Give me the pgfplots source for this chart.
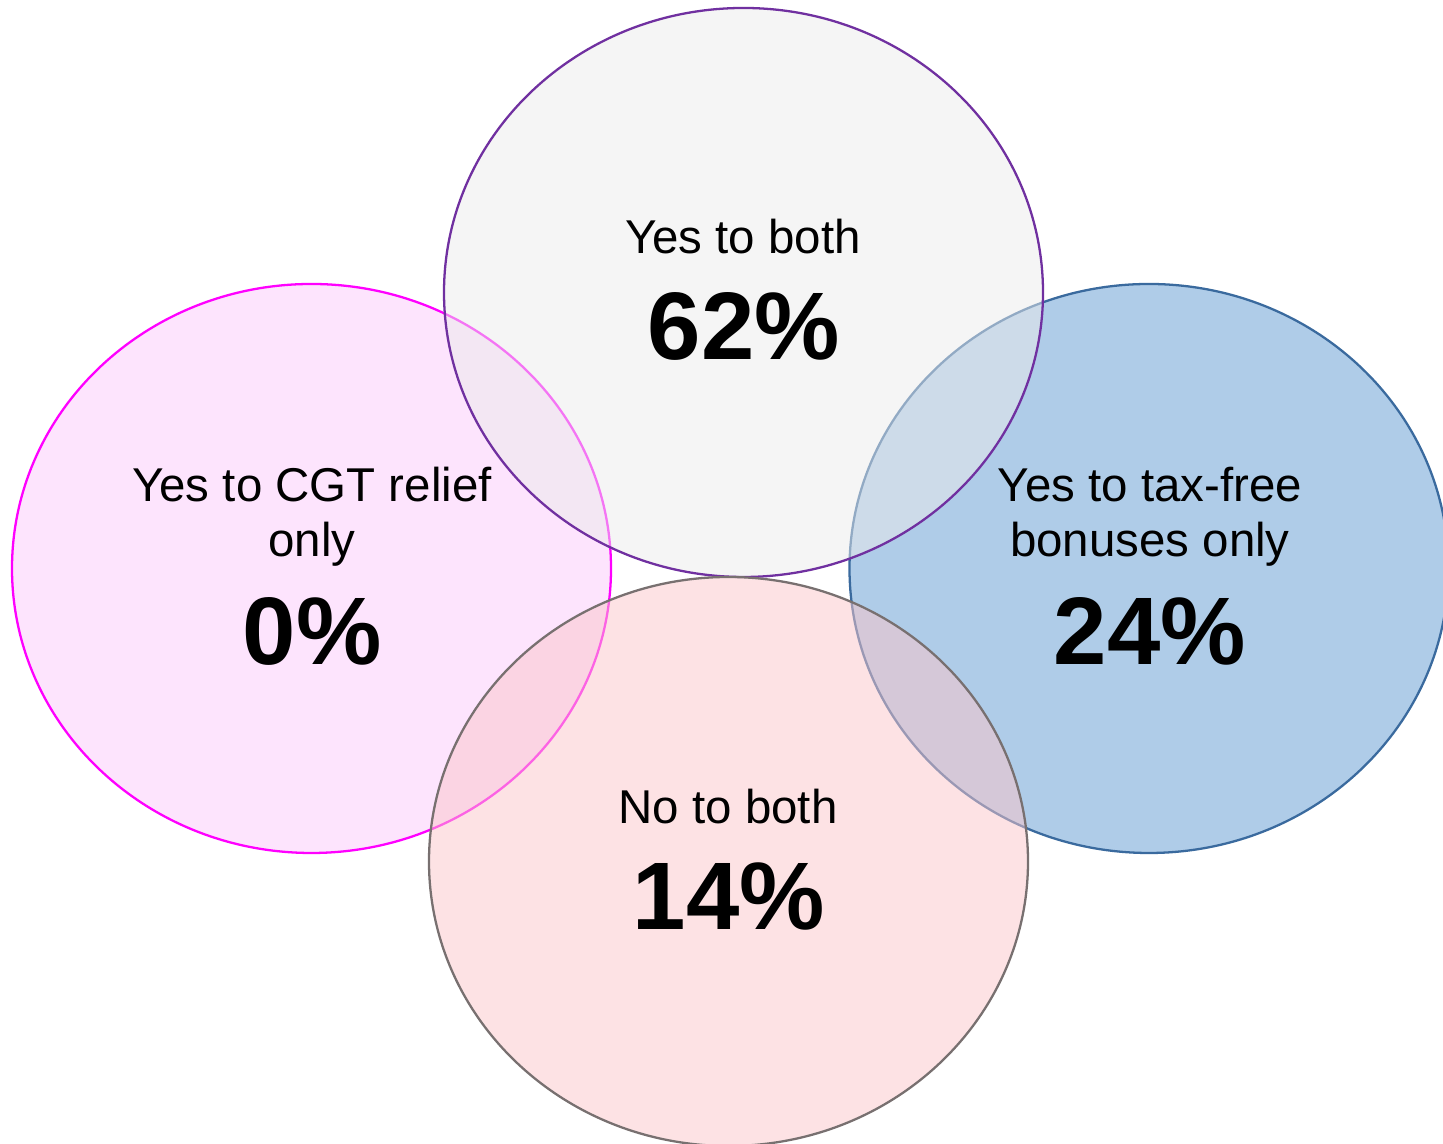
\documentclass[border=0pt]{standalone}
\usepackage{pgfplots}
\pgfplotsset{compat=1.18}
\usepackage{fontspec}
\setmainfont{Liberation Sans}
\definecolor{leftfill}{RGB}{253,228,253}
\definecolor{leftline}{RGB}{255,0,255}
\definecolor{rightfill}{RGB}{175,204,232}
\definecolor{rightline}{RGB}{58,106,158}
\definecolor{topfill}{RGB}{235,235,235}
\definecolor{topline}{RGB}{112,48,160}
\definecolor{botfill}{RGB}{251,198,202}
\definecolor{botline}{RGB}{120,112,112}
\begin{document}
\begin{tikzpicture}
\begin{axis}[
  hide axis, scale only axis,
  width=14.43cm, height=11.44cm,
  xmin=0, xmax=1443, ymin=0, ymax=1144,
  clip=true,
  /pgf/number format/assume math mode=true,
]
% ellipses (centres and radii in picture units)
\draw[leftline, line width=0.65pt, fill=leftfill] (axis cs:311.5,575.5) ellipse [x radius=299.5, y radius=284.5];
\draw[rightline, line width=0.65pt, fill=rightfill] (axis cs:1149,575.5) ellipse [x radius=299.5, y radius=284.5];
\draw[topline, line width=0.65pt, fill=topfill, fill opacity=0.5] (axis cs:743.5,851.5) ellipse [x radius=299.5, y radius=284.5];
\draw[botline, line width=0.65pt, fill=botfill, fill opacity=0.5] (axis cs:728.5,282.5) ellipse [x radius=299.5, y radius=284.5];
% labels
\node[anchor=base, font=\fontsize{13.5}{16}\selectfont] at (axis cs:743,890) {Yes to both};
\node[anchor=base, font=\fontsize{13.5}{16}\selectfont] at (axis cs:312,642) {Yes to CGT relief};
\node[anchor=base, font=\fontsize{13.5}{16}\selectfont] at (axis cs:312,587) {only};
\node[anchor=base, font=\fontsize{13.5}{16}\selectfont] at (axis cs:1150,642) {Yes to tax-free};
\node[anchor=base, font=\fontsize{13.5}{16}\selectfont] at (axis cs:1150,587) {bonuses only};
\node[anchor=base, font=\fontsize{13.5}{16}\selectfont] at (axis cs:728,320) {No to both};
% percentages
\addplot[draw=none, mark=none, point meta=explicit,
  nodes near coords={\pgfmathprintnumber[assume math mode=true]{\pgfplotspointmeta}\%},
  every node near coord/.style={anchor=base, inner sep=0pt, black, font=\fontsize{27.3}{33}\selectfont\bfseries}]
  coordinates {
    (744,784) [62]
    (312,479) [0]
    (1150,479) [24]
    (729,214) [14]
  };
\end{axis}
\pgfresetboundingbox
\path[use as bounding box] (current axis.south west) rectangle (current axis.north east);
\end{tikzpicture}
\end{document}
